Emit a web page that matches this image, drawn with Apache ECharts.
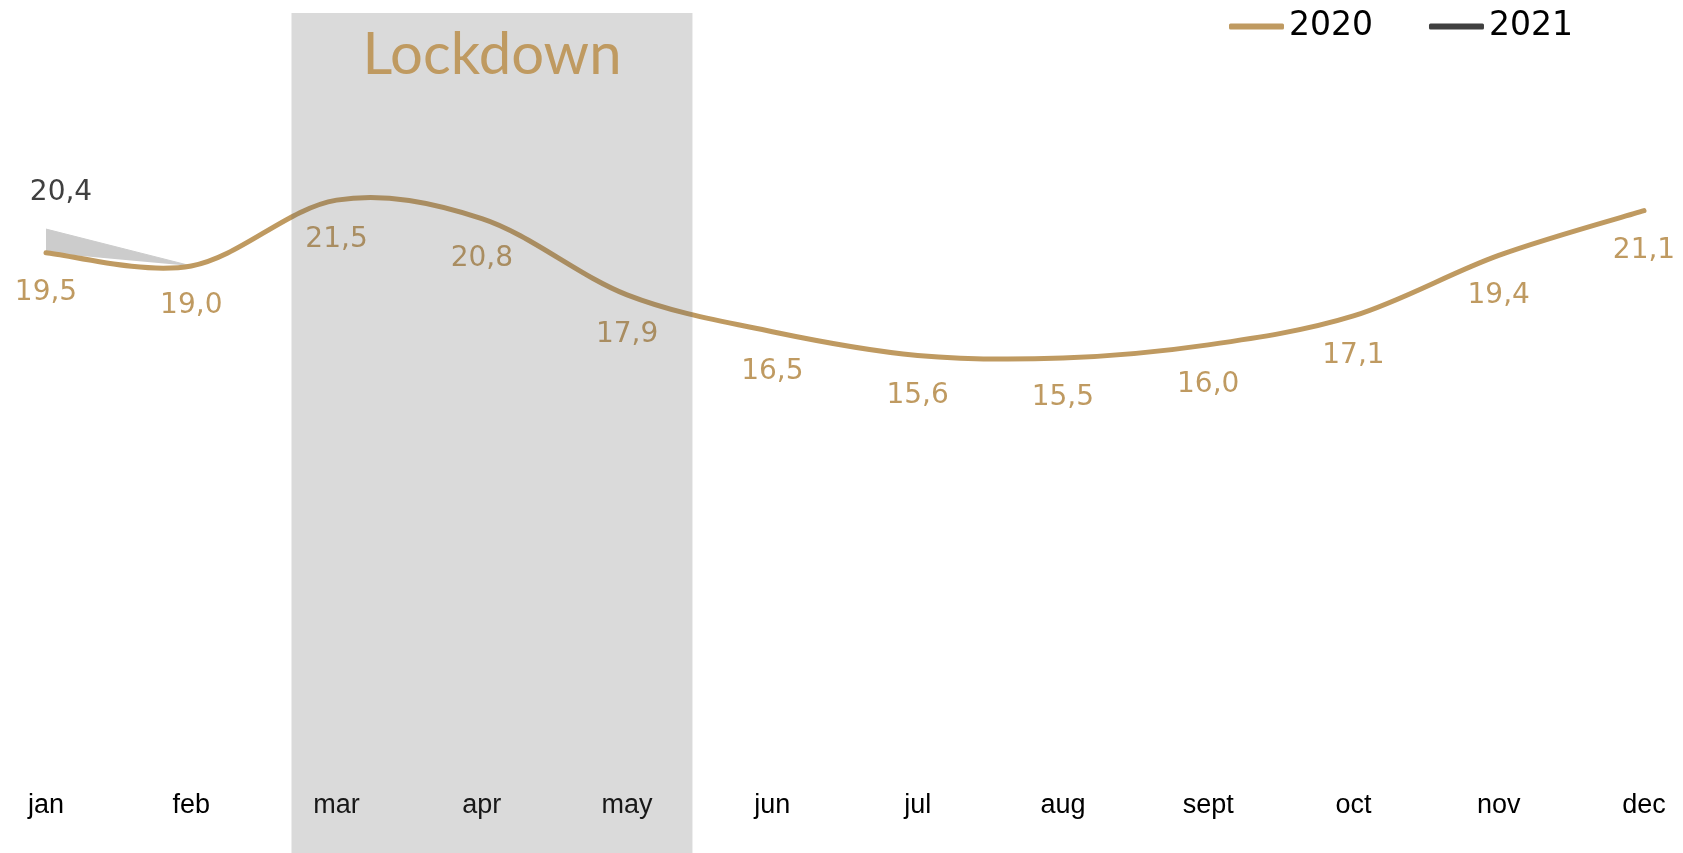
<!DOCTYPE html>
<html>
<head>
<meta charset="utf-8">
<script src="https://cdn.jsdelivr.net/npm/echarts@6/dist/echarts.min.js"></script>
<style>
  html, body { margin: 0; padding: 0; background: #ffffff; }
  #chart { width: 1683px; height: 853px; }
</style>
</head>
<body>
<div id="chart"></div>
<script>
// Monthly figures, 2020 vs 2021
const MONTHS = ['jan', 'feb', 'mar', 'apr', 'may', 'jun', 'jul', 'aug', 'sept', 'oct', 'nov', 'dec'];
const SALES_2020 = [19.5, 19.0, 21.5, 20.8, 17.9, 16.5, 15.6, 15.5, 16.0, 17.1, 19.4, 21.1];
const SALES_2021 = [20.4, 19.0, null, null, null, null, null, null, null, null, null, null];
// Lockdown period, in category units along the x axis
const LOCKDOWN_SPAN = [1.69, 4.45];
const LOCKDOWN_TEXT = 'Lockdown';

const GOLD = '#BF9A61';
const DARK = '#404040';
const LIGHT = '#CCCCCC';

const fmt = v => v.toFixed(1).replace('.', ',');

// Catmull-Rom spline through the given pixel points, as SVG path data
function splinePath(pts) {
  let d = 'M' + pts[0][0] + ' ' + pts[0][1];
  for (let i = 0; i < pts.length - 1; i++) {
    const p0 = pts[Math.max(i - 1, 0)];
    const p1 = pts[i];
    const p2 = pts[i + 1];
    const p3 = pts[Math.min(i + 2, pts.length - 1)];
    const c1 = [p1[0] + (p2[0] - p0[0]) / 6, p1[1] + (p2[1] - p0[1]) / 6];
    const c2 = [p2[0] - (p3[0] - p1[0]) / 6, p2[1] - (p3[1] - p1[1]) / 6];
    d += ' C' + c1[0] + ' ' + c1[1] + ' ' + c2[0] + ' ' + c2[1] + ' ' + p2[0] + ' ' + p2[1];
  }
  return d;
}

const chart = echarts.init(document.getElementById('chart'), null, { renderer: 'canvas' });

chart.setOption({
  animation: false,
  backgroundColor: '#ffffff',
  grid: { left: 46, right: 39, top: 108, bottom: 87, containLabel: false },
  legend: {
    left: 1224,
    top: 5,
    itemWidth: 55,
    itemHeight: 6,
    itemGap: 56,
    icon: 'roundRect',
    textStyle: { fontFamily: 'DejaVu Sans', fontSize: 33, color: '#000000' },
    data: [
      { name: '2020', itemStyle: { color: GOLD } },
      { name: '2021', itemStyle: { color: DARK } }
    ]
  },
  xAxis: {
    type: 'category',
    data: MONTHS,
    boundaryGap: false,
    axisLine: { show: false },
    axisTick: { show: false },
    splitLine: { show: false },
    axisLabel: {
      color: '#000000',
      fontFamily: 'Liberation Sans',
      fontSize: 27,
      margin: 26
    }
  },
  yAxis: {
    type: 'value',
    min: 0,
    max: 25,
    show: false
  },
  series: [
    {
      // wedge between the 2021 and 2020 values where both exist
      type: 'custom',
      name: 'gap',
      z: 1,
      silent: true,
      data: [[0]],
      renderItem: function (params, api) {
        const top = [];
        const bottom = [];
        for (let i = 0; i < MONTHS.length; i++) {
          if (SALES_2021[i] == null) continue;
          top.push(api.coord([i, SALES_2021[i]]));
          bottom.push(api.coord([i, SALES_2020[i]]));
        }
        return {
          type: 'polygon',
          shape: { points: top.concat(bottom.reverse()) },
          style: { fill: LIGHT, stroke: null }
        };
      }
    },
    {
      // smooth 2020 curve
      type: 'custom',
      name: 'curve2020',
      z: 3,
      silent: true,
      data: [[0]],
      renderItem: function (params, api) {
        const pts = SALES_2020.map((v, i) => api.coord([i, v]));
        return {
          type: 'path',
          shape: { pathData: splinePath(pts) },
          style: { fill: null, stroke: GOLD, lineWidth: 5, lineCap: 'round', lineJoin: 'round' }
        };
      }
    },
    {
      name: '2021',
      type: 'line',
      z: 2,
      data: SALES_2021,
      smooth: false,
      symbol: 'circle',
      symbolSize: 0.1,
      itemStyle: { color: DARK },
      lineStyle: { color: LIGHT, width: 1 },
      label: {
        show: true,
        position: 'top',
        distance: 22,
        offset: [15, 0],
        fontFamily: 'DejaVu Sans',
        fontSize: 28,
        color: DARK,
        formatter: p => (p.dataIndex === 0 && p.value != null) ? fmt(p.value) : ''
      }
    },
    {
      name: '2020',
      type: 'line',
      z: 4,
      data: SALES_2020,
      symbol: 'circle',
      symbolSize: 0.1,
      itemStyle: { color: GOLD },
      lineStyle: { color: GOLD, width: 0, opacity: 0 },
      label: {
        show: true,
        position: 'bottom',
        distance: 26,
        fontFamily: 'DejaVu Sans',
        fontSize: 28,
        color: GOLD,
        formatter: p => fmt(p.value)
      }
    }
  ]
});

// pixel x of a fractional category position
function catX(v) {
  const i = Math.floor(v);
  const a = chart.convertToPixel({ xAxisIndex: 0 }, i);
  const b = chart.convertToPixel({ xAxisIndex: 0 }, i + 1);
  return a + (b - a) * (v - i);
}

// Translucent band marking the lockdown months, laid over the line
const x0 = catX(LOCKDOWN_SPAN[0]);
const x1 = catX(LOCKDOWN_SPAN[1]);
chart.setOption({
  graphic: [
    {
      type: 'rect',
      z: 100,
      silent: true,
      shape: { x: x0, y: 13, width: x1 - x0, height: 853 - 13 },
      style: { fill: 'rgba(100,100,100,0.24)' }
    },
    {
      type: 'text',
      z: 101,
      silent: true,
      x: (x0 + x1) / 2,
      y: 55,
      style: {
        text: LOCKDOWN_TEXT,
        fill: GOLD,
        fontFamily: 'Lato',
        fontSize: 58,
        align: 'center',
        verticalAlign: 'middle'
      }
    }
  ]
});
</script>
</body>
</html>
